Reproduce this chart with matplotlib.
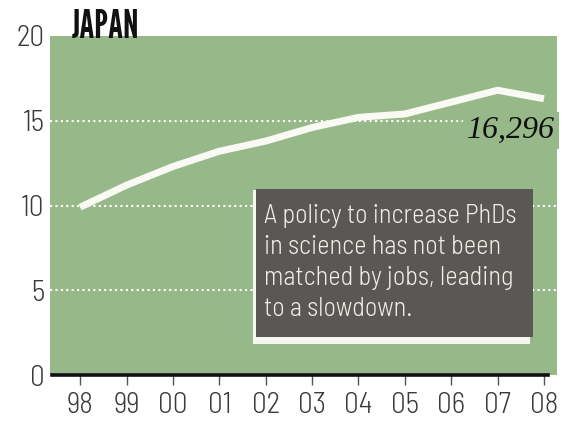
import matplotlib
matplotlib.use('Agg')  # no display
import matplotlib.pyplot as plt
from matplotlib.patches import Rectangle

# Japan: science PhD output, thousands per year
years = [1998, 1999, 2000, 2001, 2002, 2003, 2004, 2005, 2006, 2007, 2008]
phds = [9.9, 11.2, 12.3, 13.2, 13.8, 14.6, 15.2, 15.4, 16.1, 16.8, 16.296]
year_labels = ['98', '99', '00', '01', '02', '03', '04', '05', '06', '07', '08']
y_ticks = [0, 5, 10, 15, 20]
note = ('A policy to increase PhDs\nin science has not been\n'
        'matched by jobs, leading\nto a slowdown.')

green = '#97b98a'
narrow = ['Barlow Semi Condensed', 'DejaVu Sans']
gothic = ['League Gothic', 'DejaVu Sans']

fig = plt.figure(figsize=(5.63, 4.26), dpi=100)
fig.patch.set_facecolor('white')
ax = fig.add_axes([0.0888, 0.1197, 0.9005, 0.7958])
ax.set_facecolor(green)
for s in ax.spines.values():
    s.set_visible(False)

ax.set_xlim(1997.35, 2008.28)
ax.set_ylim(0, 20)

# dotted white gridlines
for v in y_ticks[1:-1]:
    ax.axhline(v, color='white', lw=1.5, linestyle=(0, (1, 1.6)), zorder=1)

ax.plot(years, phds, color='#fafaf5', lw=5, solid_capstyle='butt',
        solid_joinstyle='round', zorder=3)

# baseline
ax.axhline(0, xmin=0.003, xmax=0.982, color='#111111', lw=2.6,
           zorder=4, clip_on=False)

ax.set_xticks(years)
ax.set_xticklabels(year_labels)
ax.set_yticks(y_ticks)
ax.set_yticklabels([str(v) for v in y_ticks])
ax.tick_params(axis='x', length=7.5, width=1, color='#555555', pad=5,
               labelsize=21, labelcolor='#3a3a3a')
ax.tick_params(axis='y', length=0, pad=4, labelsize=21, labelcolor='#3a3a3a')
for lab in ax.get_xticklabels() + ax.get_yticklabels():
    lab.set_family(narrow)
    lab.set_fontweight(300)

# latest value label
ax.annotate(f'{phds[-1] * 1000:,.0f}', xy=(years[-1], phds[-1]),
            xytext=(8, -28), textcoords='offset points', ha='right',
            va='baseline', fontsize=23, style='italic', color='#111111',
            family=['Liberation Serif', 'DejaVu Serif'], zorder=5,
            bbox=dict(facecolor=green, edgecolor='none', pad=3))

# note box with white offset edge
ax.add_patch(Rectangle((0.400, 0.0914), 0.547, 0.4546, transform=ax.transAxes,
                       facecolor='#f7f7f2', edgecolor='none', zorder=5))
ax.add_patch(Rectangle((0.406, 0.112), 0.547, 0.437, transform=ax.transAxes,
                       facecolor='#5b5754', edgecolor='none', zorder=6))
ax.text(0.422, 0.505, note, transform=ax.transAxes, ha='left', va='top',
        fontsize=19, fontweight=300, color='#f0eee8', linespacing=1.38,
        family=narrow, zorder=7)

fig.text(72 / 563, 0.911, 'JAPAN', ha='left', va='baseline', fontsize=28,
         color='#111111', family=gothic)

plt.savefig('out.png', dpi=100)
plt.close()
